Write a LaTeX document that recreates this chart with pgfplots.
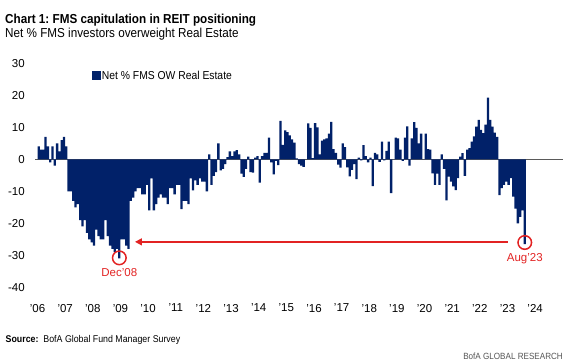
\documentclass[border=0pt]{standalone}
\usepackage{pgfplots}
\pgfplotsset{compat=1.18}
\usepackage{pgfplotstable}
\usepackage{fontspec}
\setmainfont{Liberation Sans}
\newfontfamily\narrowfont[FakeStretch=0.9]{Liberation Sans}
\usetikzlibrary{arrows.meta}
\definecolor{bofanavy}{RGB}{1,33,105}
\definecolor{bofared}{RGB}{226,35,35}
\definecolor{zerogray}{RGB}{90,90,90}
\definecolor{txtgray}{RGB}{85,85,85}
\frenchspacing

\pgfplotstableread{
i v
0 4
1 3
2 3
3 7
4 4
5 -1
6 4
7 -2
8 5
9 2.5
10 6
11 7
12 4
13 -10
14 -10
15 -13
16 -15
17 -14
18 -19
19 -21
20 -19
21 -23
22 -25
23 -26
24 -27
25 -22
26 -24
27 -25
28 -25
29 -19
30 -24
31 -27
32 -28
33 -29
34 -28
35 -31
36 -25
37 -25
38 -27
39 -28
40 -13
41 -12
42 -10
43 -9
44 -9
45 -11
46 -11
47 -8
48 -16
49 -6
50 -16
51 -14
52 -12
53 -11
54 -12
55 -12
56 -14
57 -9
58 -9
59 -11
60 -8
61 -8
62 -15.6
63 -13
64 -13
65 -14
66 -6
67 -9.7
68 -6.6
69 -8
70 -6
71 -7
72 -7
73 -10
74 1.5
75 -8
76 -5.2
77 -4
78 5
79 -3.5
80 -3
81 -1.5
82 0.7
83 2.5
84 1
85 2.5
86 2.9
87 1.5
88 -4.5
89 -5.5
90 -3
91 0.8
92 -4
93 -4.2
94 0.5
95 1
96 -7.3
97 1
98 2
99 2
100 6.8
101 -1
102 -4.7
103 -0.5
104 -1.8
105 12
106 4.5
107 9
108 8.5
109 7.5
110 6.2
111 5.2
112 0.3
113 -1.5
114 -2
115 -2.4
116 0
117 11.2
118 9.8
119 0.4
120 11.3
121 10
122 1.5
123 5.8
124 6.2
125 6.5
126 8
127 11.7
128 3.2
129 2
130 -1.7
131 -2.6
132 5
133 3.8
134 -2.5
135 -5.3
136 -3.3
137 -1.5
138 -6.2
139 0.5
140 -0.3
141 4.4
142 1
143 -1
144 0.5
145 -8.4
146 2
147 1.5
148 -0.8
149 5.5
150 -0.3
151 2.6
152 5.5
153 -10.6
154 0
155 6.8
156 6.5
157 3
158 -0.5
159 6.8
160 10.3
161 -2
162 6.5
163 11.6
164 9.8
165 5
166 8
167 0
168 8
169 3.2
170 3
171 -4.4
172 -8
173 -4.5
174 -8
175 1.5
176 -3
177 -12.8
178 -5.4
179 -7
180 -8.5
181 -9.6
182 -5.9
183 0.8
184 1.9
185 -5.2
186 3
187 3.5
188 5.5
189 7.2
190 10.2
191 12.3
192 9.2
193 8.2
194 10.8
195 19.3
196 12.3
197 10.2
198 8.3
199 7
200 -11.2
201 -9
202 -8
203 -7
204 -8
205 -5.9
206 -11.7
207 -15.4
208 -20
209 -18
210 -16
211 -26.5
}\fmsdata

\begin{document}
\begin{tikzpicture}
\path[use as bounding box] (0,0) rectangle (573bp,361bp);
\node[anchor=base west, inner sep=0pt, font=\narrowfont\bfseries\fontsize{13bp}{15bp}\selectfont] at (5bp,337.7bp) {Chart 1: FMS capitulation in REIT positioning};
\node[anchor=base west, inner sep=0pt, font=\narrowfont\fontsize{13bp}{15bp}\selectfont] at (5bp,323.7bp) {Net \% FMS investors overweight Real Estate};
\node[anchor=base west, inner sep=0pt, font=\narrowfont\fontsize{9.8bp}{11bp}\selectfont] at (5.5bp,18.3bp) {\textbf{Source:}\ \ BofA Global Fund Manager Survey};
\node[anchor=base east, inner sep=0pt, text=txtgray, font=\narrowfont\fontsize{9bp}{11bp}\selectfont] at (563bp,1.5bp) {BofA GLOBAL RESEARCH};
\begin{axis}[
  at={(35bp,73.7bp)}, anchor=south west,
  scale only axis, width=528bp, height=224bp,
  xmin=-1.6, xmax=227.6, ymin=-40, ymax=30,
  axis line style={draw=none},
  tick style={draw=none},
  major tick length=0pt,
  ytick={-40,-30,-20,-10,0,10,20,30},
  yticklabels={-40,-30,-20,-10,0,10,20,30},
  xtick={-0.5,11.5,...,215.5},
  xticklabels={’06,’07,’08,’09,’10,’11,’12,’13,’14,’15,’16,’17,’18,’19,’20,’21,’22,’23,’24},
  tick label style={font=\fontsize{11.5bp}{13bp}\selectfont},
  yticklabel style={xshift=-6.7bp},
  xticklabel style={yshift=-13.2bp},
  clip=false,
  legend style={at={(axis description cs:0.1074,0.944)}, anchor=west, draw=none, fill=none, inner sep=0pt,
    font=\narrowfont\fontsize{11.5bp}{13bp}\selectfont, nodes={inner xsep=1bp, inner ysep=0pt}},
  legend cell align=left,
]
\addplot[zerogray, line width=1.3bp, forget plot] coordinates {(-1.6,0) (227.6,0)};
\addplot[ybar, bar width=1, fill=bofanavy, draw=none,
  legend image code/.code={\fill[bofanavy] (0bp,-4.5bp) rectangle (9bp,4.5bp);}]
  table[x=i, y=v] {\fmsdata};
\addlegendentry{Net \% FMS OW Real Estate}
\draw[bofared, line width=1.5bp] (axis cs:35,-30.8) circle[radius=6.8bp];
\draw[bofared, line width=1.5bp] (axis cs:211,-26) circle[radius=6.8bp];
\draw[bofared, line width=1.5bp, -{Triangle[length=7bp, width=7bp]}] (axis cs:203.7,-25.8) -- (axis cs:41.8,-25.8);
\node[text=bofared, font=\fontsize{11.5bp}{13bp}\selectfont, yshift=-14.5bp] at (axis cs:35,-30.8) {Dec’08};
\node[text=bofared, font=\fontsize{11.5bp}{13bp}\selectfont, yshift=-16.6bp] at (axis cs:211,-26) {Aug’23};
\end{axis}
\end{tikzpicture}
\end{document}
